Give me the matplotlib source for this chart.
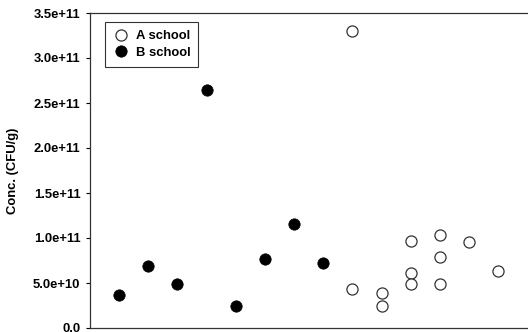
import matplotlib
matplotlib.use("Agg")
import matplotlib.pyplot as plt

plt.rcParams['font.family'] = ['Liberation Sans', 'DejaVu Sans']
plt.rcParams['font.weight'] = 'bold'

# sample index on x, concentration (CFU/g) on y
b_x = [1, 2, 3, 4, 5, 6, 7, 8]
b_y = [3.7e10, 6.9e10, 4.9e10, 2.64e11, 2.5e10, 7.7e10, 1.16e11, 7.2e10]

a_x = [9, 9, 10, 10, 11, 11, 11, 12, 12, 12, 13, 14]
a_y = [3.3e11, 4.3e10, 3.9e10, 2.5e10, 9.7e10, 6.1e10, 4.9e10,
       1.03e11, 7.9e10, 4.9e10, 9.6e10, 6.3e10]

yticks = [0, 5e10, 1e11, 1.5e11, 2e11, 2.5e11, 3e11, 3.5e11]
ylabels = ['0.0', '5.0e+10', '1.0e+11', '1.5e+11', '2.0e+11',
           '2.5e+11', '3.0e+11', '3.5e+11']

fig = plt.figure(figsize=(5.28, 3.32), dpi=100)
ax = fig.add_axes([90 / 528, 1 - 328 / 332, 1 - 90 / 528 + 0.01, (328 - 13) / 332])

ax.plot(a_x, a_y, 'o', ms=8, mfc='white', mec='#333333', mew=0.9,
        label='A school', linestyle='none')
ax.plot(b_x, b_y, 'o', ms=8.2, mfc='black', mec='black', mew=0.5,
        label='B school', linestyle='none')

ax.set_xlim(0, 15.2)
ax.set_ylim(0, 3.5e11)
ax.set_xticks([])
ax.set_yticks(yticks)
ax.set_yticklabels(ylabels, fontsize=9.4, fontweight='bold')
ax.tick_params(axis='y', direction='out', length=3, width=0.8, pad=4)
ax.set_ylabel('Conc. (CFU/g)', fontsize=9.4, fontweight='bold', labelpad=10)

for s in ['left', 'top', 'bottom']:
    ax.spines[s].set_linewidth(0.9)
    ax.spines[s].set_color('#333333')
ax.spines['right'].set_visible(False)

leg = ax.legend(loc='upper left', bbox_to_anchor=(0.034, 0.971), frameon=True,
                fancybox=False, edgecolor='black', fontsize=9.4,
                handletextpad=0.55, borderpad=0.6, labelspacing=0.35,
                handlelength=1.2, markerscale=1.0, borderaxespad=0)
leg.get_frame().set_linewidth(0.8)
for t in leg.get_texts():
    t.set_fontweight('bold')

fig.savefig('out.png', dpi=100)
